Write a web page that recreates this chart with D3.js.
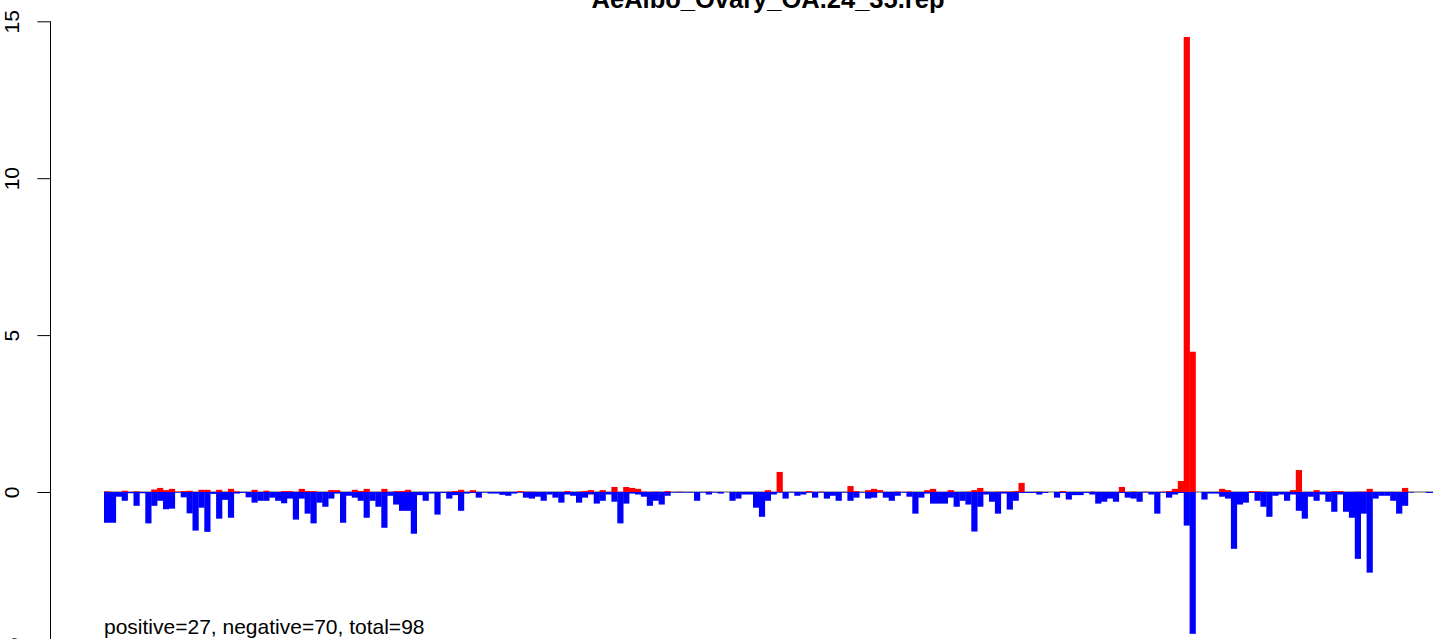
<!DOCTYPE html>
<html><head><meta charset="utf-8">
<script src="https://cdn.jsdelivr.net/npm/d3@7"></script>
<style>body{margin:0;background:#fff}svg{display:block;font-family:"Liberation Sans",Arial,sans-serif}</style>
</head><body>
<svg id="c" width="1433" height="639"></svg>
<script>
const title = "AeAlbo_Ovary_OA.24_35.rep";
const note = "positive=27, negative=70, total=98";
const yTicks = [-5, 0, 5, 10, 15];
// positive (red) values per position, index = position
const posVals = [
0.02,0,0,0.04,0,0.02,0,0,0.08,0.13, 0.06,0.1,0.01,0.03,0.04,0,0.07,0.07,0,0.07,
0,0.1,0.02,0,0,0.07,0,0.04,0,0, 0.03,0.03,0,0.1,0.03,0.03,0,0,0.06,0.06,
0,0,0.07,0.03,0.1,0,0,0.1,0,0.03, 0.03,0.07,0,0,0,0,0,0,0.01,0.03,
0.07,0,0.06,0,0,0,0,0,0,0, 0.03,0.01,0.01,0,0,0,0,0,0.03,0,
0.01,0.03,0.06,0,0.06,0,0.16,0,0.16,0.13, 0.1,0.01,0,0.01,0,0.03,0,0.01,0,0,
0,0,0.01,0,0,0,0,0,0,0, 0,0,0.06,0,0.64,0,0,0,0,0.03,
0,0.01,0,0,0,0,0.19,0.03,0,0.06, 0.1,0.06,0,0,0.01,0,0.01,0,0,0.06,
0.1,0,0,0.06,0,0,0.01,0.06,0.13,0.01, 0,0.01,0.01,0.01,0.03,0.29,0,0,0.01,0,
0,0,0.03,0,0,0,0,0.01,0,0, 0,0,0.16,0,0.01,0,0.01,0,0,0.01,
0.03,0.1,0.35,14.5,4.47,0,0,0,0,0.1, 0.06,0,0,0,0.03,0.03,0.01,0,0,0,
0,0.06,0.7,0,0,0.06,0,0,0.03,0.03, 0,0,0.01,0.01,0.1,0,0,0,0,0,
0.13,0,0,0,0,0
];
// negative (blue) values per position
const negVals = [
-0.98,-0.98,-0.15,-0.28,-0.04,-0.44,-0.04,-1.0,-0.44,-0.28, -0.55,-0.53,-0.02,-0.17,-0.68,-1.23,-0.5,-1.27,-0.06,-0.85,
-0.25,-0.82,-0.05,-0.03,-0.17,-0.34,-0.28,-0.28,-0.18,-0.28, -0.36,-0.21,-0.88,-0.21,-0.69,-1.0,-0.34,-0.47,-0.21,-0.05,
-0.98,-0.12,-0.18,-0.28,-0.82,-0.28,-0.47,-1.14,-0.12,-0.4, -0.6,-0.6,-1.33,-0.1,-0.28,-0.05,-0.72,-0.03,-0.21,-0.1,
-0.6,-0.05,-0.03,-0.18,-0.02,-0.05,-0.05,-0.09,-0.12,-0.05, -0.02,-0.18,-0.21,-0.15,-0.28,-0.08,-0.18,-0.34,-0.08,-0.12,
-0.34,-0.18,-0.08,-0.37,-0.28,-0.08,-0.31,-1.0,-0.37,-0.05, -0.08,-0.15,-0.44,-0.28,-0.4,-0.12,-0.02,-0.02,-0.02,-0.02,
-0.28,-0.02,-0.08,-0.02,-0.05,0,-0.28,-0.21,-0.08,-0.08, -0.5,-0.79,-0.28,-0.08,-0.02,-0.21,-0.02,-0.12,-0.08,-0.02,
-0.18,-0.02,-0.21,-0.12,-0.28,-0.02,-0.28,-0.18,-0.02,-0.21, -0.18,-0.02,-0.18,-0.28,-0.12,-0.02,-0.15,-0.69,-0.18,-0.05,
-0.37,-0.37,-0.37,-0.18,-0.47,-0.28,-0.4,-1.26,-0.47,-0.08, -0.31,-0.69,-0.05,-0.56,-0.28,-0.03,-0.03,-0.03,-0.08,-0.03,
0,-0.18,-0.03,-0.24,-0.1,-0.1,-0.03,-0.08,-0.37,-0.31, -0.21,-0.31,-0.03,-0.18,-0.21,-0.31,-0.02,-0.08,-0.69,-0.02,
-0.18,-0.08,-0.03,-1.07,-4.52,0,-0.24,-0.05,-0.05,-0.15, -0.21,-1.81,-0.4,-0.34,-0.03,-0.28,-0.47,-0.79,-0.12,-0.08,
-0.28,-0.08,-0.6,-0.85,-0.15,-0.28,-0.08,-0.31,-0.63,-0.08, -0.63,-0.82,-2.13,-0.69,-2.57,-0.21,-0.12,-0.12,-0.28,-0.69,
-0.44,-0.02,0,0,-0.03,-0.03
];

const svg = d3.select("#c");
const n = posVals.length;
const barW = 5.9, x0 = 104;
const x = d3.scaleBand().domain(d3.range(n)).range([x0, x0 + n * barW]).padding(0);
const y = d3.scaleLinear().domain([-5, 15]).range([492 + 5 * 31.38, 492 - 15 * 31.38]);

// zero line across the data range
svg.append("line").attr("x1", x0).attr("x2", 1433).attr("y1", y(0)).attr("y2", y(0))
  .attr("stroke", "#a8a8a8").attr("stroke-width", 2);

const bars = svg.append("g");
bars.selectAll("rect.neg").data(negVals).join("rect").attr("class", "neg")
  .attr("x", (d, i) => x(i)).attr("width", x.bandwidth() + 0.3)
  .attr("y", y(0)).attr("height", d => y(d) - y(0)).attr("fill", "#0000FF");
bars.selectAll("rect.pos").data(posVals).join("rect").attr("class", "pos")
  .attr("x", (d, i) => x(i)).attr("width", x.bandwidth() + 0.3)
  .attr("y", d => y(d)).attr("height", d => y(0) - y(d)).attr("fill", "#FF0000");

// y axis
const ax = svg.append("g").attr("transform", "translate(50,0)")
  .call(d3.axisLeft(y).tickValues(yTicks).tickSize(12.6).tickSizeOuter(0).tickFormat(d3.format("d")));
ax.select(".domain").attr("stroke", "#000").attr("stroke-width", 1)
  .attr("d", `M0.5,${y(15)}V${y(-5)}`);
ax.selectAll(".tick line").attr("stroke", "#000");
ax.selectAll(".tick text").attr("fill", "#000").attr("font-size", 21)
  .attr("font-family", "Liberation Sans, Arial, sans-serif")
  .attr("x", null).attr("dy", null)
  .attr("text-anchor", "middle")
  .attr("transform", "translate(-31,0) rotate(-90)");

svg.append("text").attr("x", 768).attr("y", 8).attr("text-anchor", "middle")
  .attr("font-size", 25.5).attr("font-weight", "bold").text(title);
svg.append("text").attr("x", x0).attr("y", 634).attr("font-size", 21).text(note);
</script>
</body></html>
